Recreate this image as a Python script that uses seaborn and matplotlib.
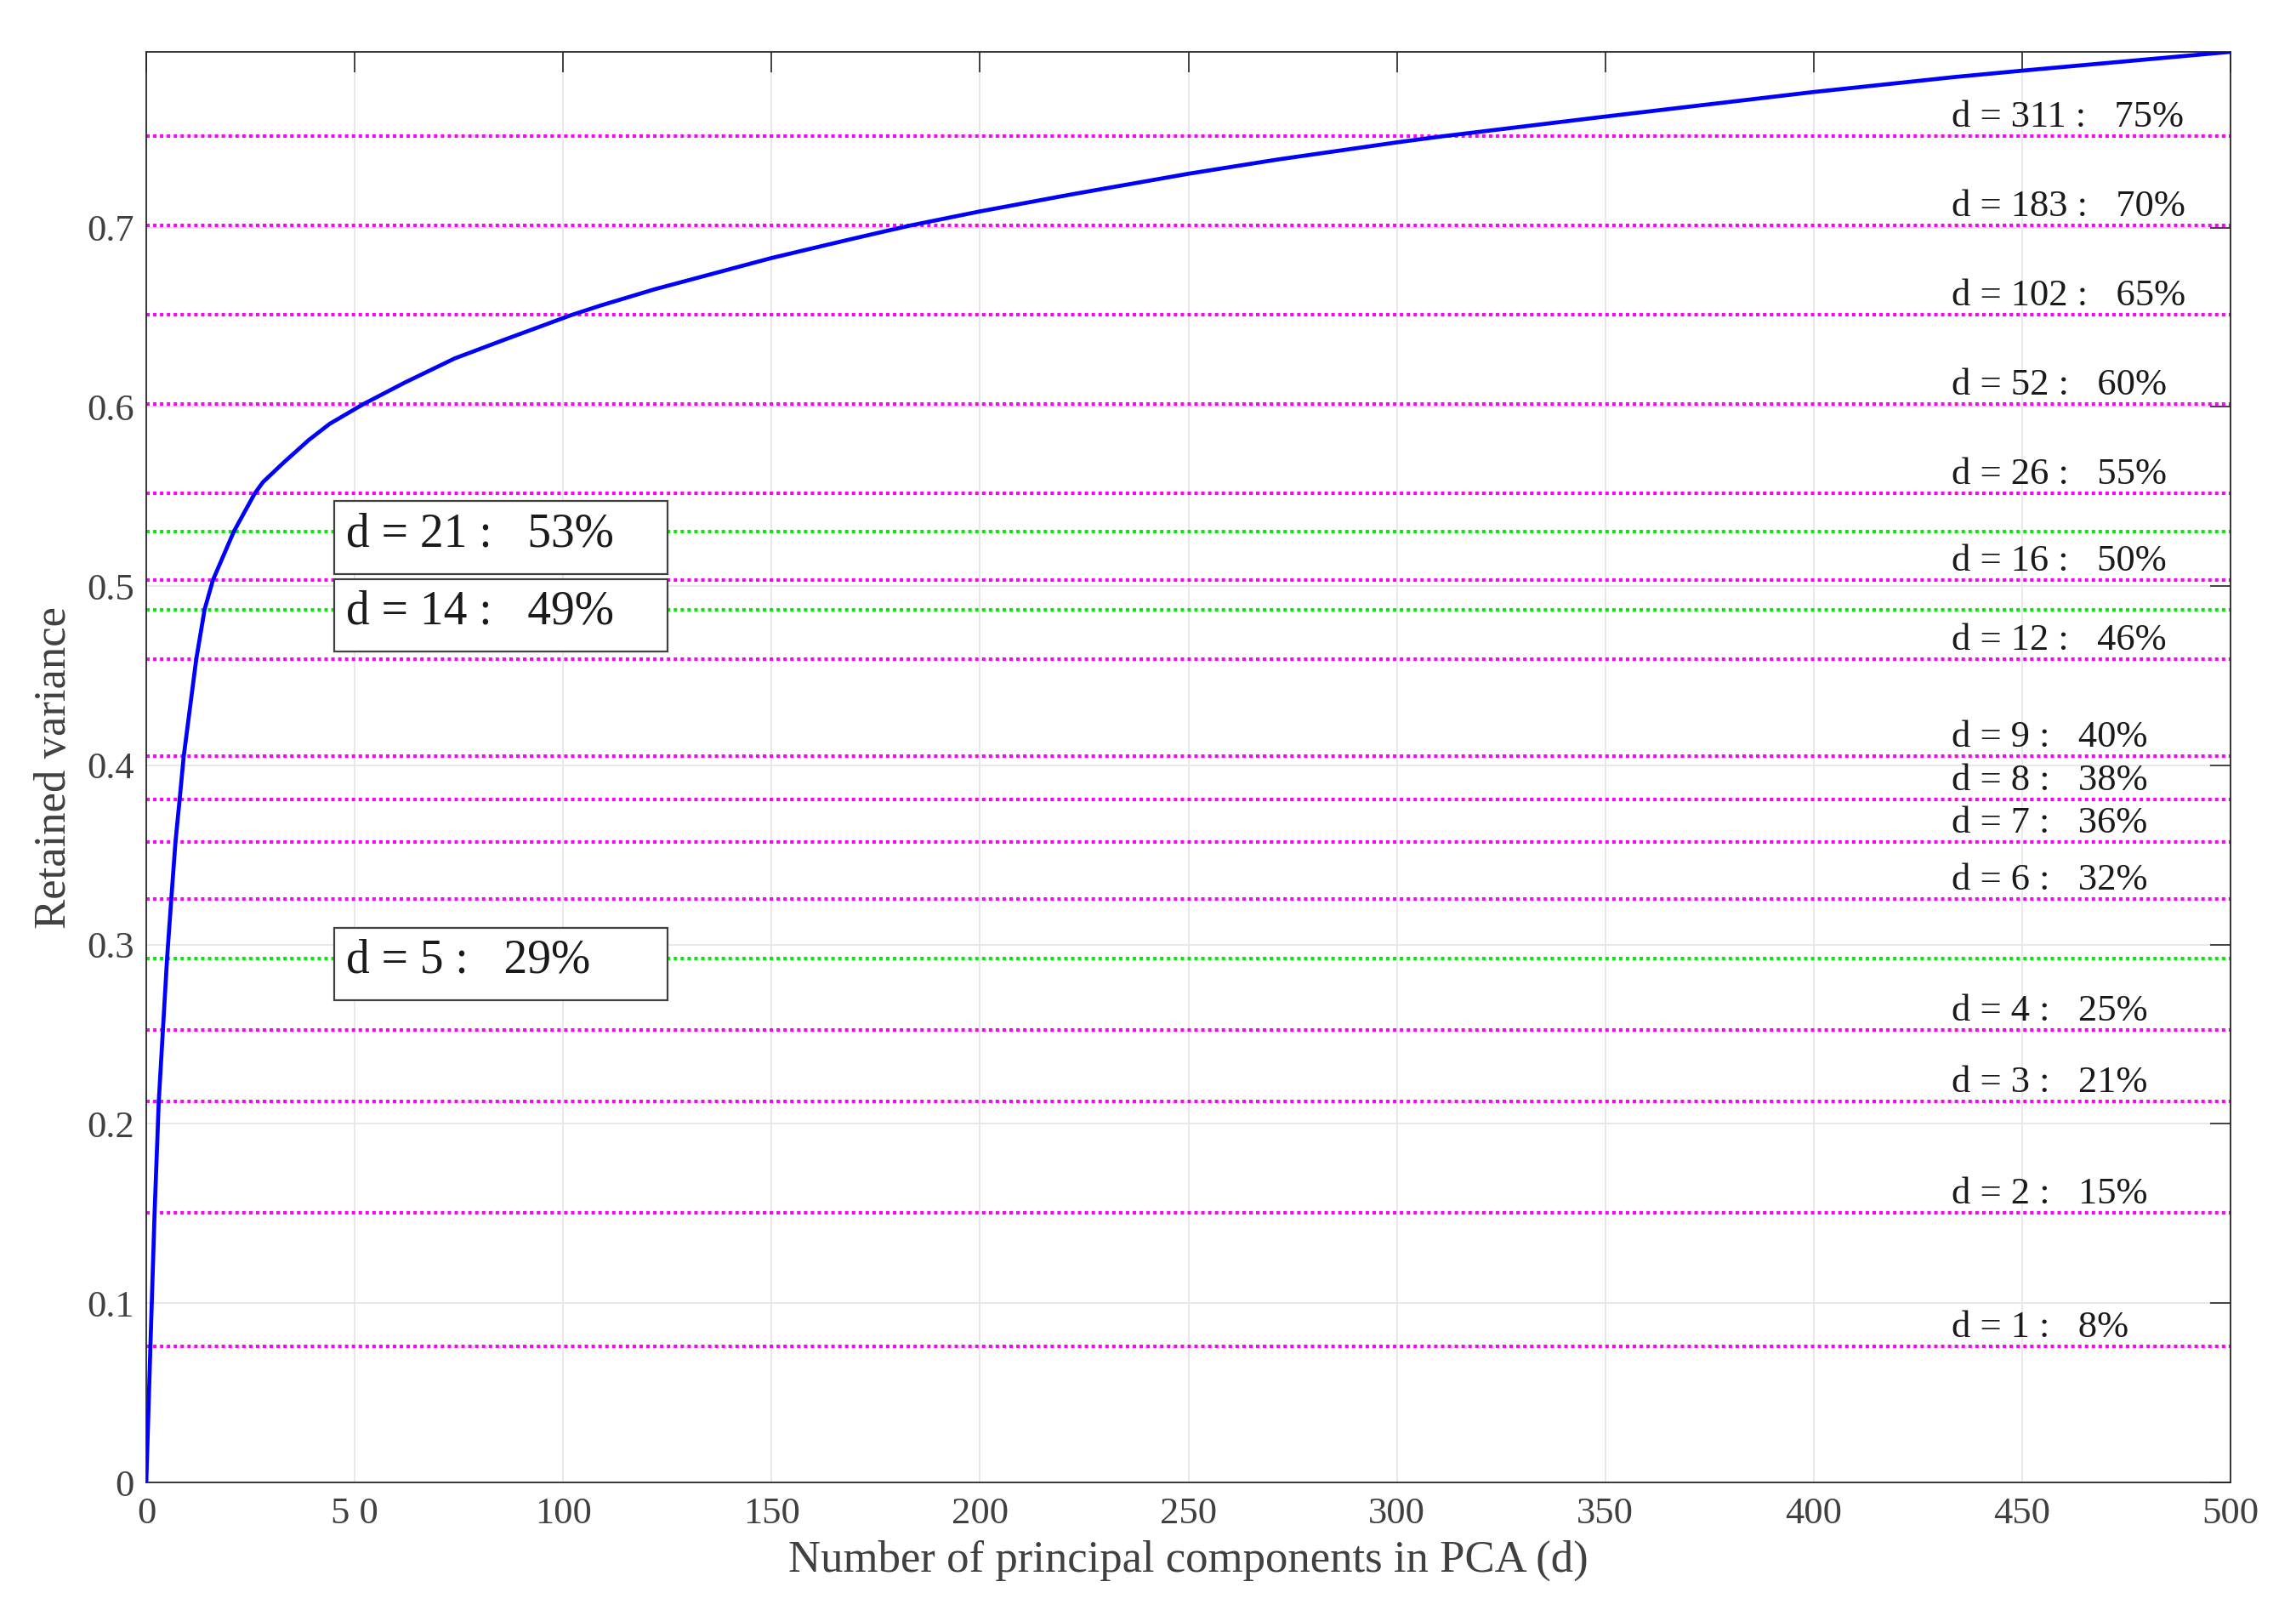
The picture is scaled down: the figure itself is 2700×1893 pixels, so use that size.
import numpy as np
import pandas as pd
import matplotlib
matplotlib.use("Agg")
import matplotlib.pyplot as plt
import seaborn as sns
from matplotlib.patches import Rectangle

# cumulative retained variance
curve_d = [0, 1, 2, 3, 4, 5, 6, 7, 8, 9, 12, 14, 16, 21, 26, 28, 33, 39, 44, 52,
           62, 74, 86, 102, 109, 122, 150, 169, 183, 200, 222, 250, 271, 300, 311,
           350, 400, 434, 450, 500]
curve_var = [0.0, 0.0761, 0.1505, 0.2125, 0.2526, 0.2925, 0.3253, 0.3571, 0.3808, 0.4053,
             0.4593, 0.487, 0.5034, 0.5304, 0.5516, 0.558, 0.569, 0.5815, 0.5905, 0.6014,
             0.6135, 0.627, 0.6375, 0.6512, 0.6565, 0.6656, 0.683, 0.6935, 0.701, 0.709,
             0.7185, 0.730, 0.7378, 0.7475, 0.7509, 0.7619, 0.7756, 0.784, 0.7875, 0.798]

# magenta reference levels with their labels
mag_levels = [0.0761, 0.1505, 0.2125, 0.2526, 0.3253, 0.3571, 0.3808, 0.4053,
              0.4593, 0.5034, 0.5516, 0.6014, 0.6512, 0.7010, 0.7509]
mag_d = [1, 2, 3, 4, 6, 7, 8, 9, 12, 16, 26, 52, 102, 183, 311]
mag_pct = [8, 15, 21, 25, 32, 36, 38, 40, 46, 50, 55, 60, 65, 70, 75]

# green highlighted levels (boxed labels)
green_levels = [0.5304, 0.487, 0.2925]
green_d = [21, 14, 5]
green_pct = [53, 49, 29]

xticks = [0, 50, 100, 150, 200, 250, 300, 350, 400, 450, 500]
xtick_labels = ["0", "5 0", "100", "150", "200", "250", "300", "350", "400", "450", "500"]
yticks = [0, 0.1, 0.2, 0.3, 0.4, 0.5, 0.6, 0.7]
ytick_labels = ["0", "0.1", "0.2", "0.3", "0.4", "0.5", "0.6", "0.7"]

sns.set_style("white")
plt.rcParams['font.family'] = ['Liberation Serif', 'DejaVu Serif']

axis_col = "#262626"
fig = plt.figure(figsize=(27, 18.93), dpi=100)
ax = fig.add_axes([0.0637, 0.0792, 0.9078, 0.8886])

# grid
for xv in xticks[1:-1]:
    ax.axvline(xv, color="#e6e6e6", lw=1.3, zorder=0)
for yv in yticks[1:]:
    ax.axhline(yv, color="#e6e6e6", lw=1.3, zorder=0)

for lv in mag_levels:
    ax.axhline(lv, color="#ff00ff", lw=2.9, ls=(0, (1.0, 1.0)), zorder=2)
for lv in green_levels:
    ax.axhline(lv, color="#00ee00", lw=2.9, ls=(0, (1.0, 1.0)), zorder=2)

df = pd.DataFrame({"d": curve_d, "var": curve_var})
sns.lineplot(data=df, x="d", y="var", color="#0000ff", lw=3.4, ax=ax, zorder=4)

# right-side labels
for lv, d, p in zip(mag_levels, mag_d, mag_pct):
    ax.text(433, lv + 0.0052, f"d = {d} :   {p}%", fontsize=32, color="#1a1a1a",
            ha="left", va="baseline", zorder=5)

# boxed labels
for lv, d, p in zip(green_levels, green_d, green_pct):
    ax.add_patch(Rectangle((45.1, lv - 0.0235), 80, 0.0405, facecolor="white",
                           edgecolor="#404040", lw=1.6, zorder=3))
    ax.text(48, lv - 0.0015, f"d = {d} :   {p}%", fontsize=40, color="#1a1a1a",
            ha="left", va="center", zorder=5)

ax.set_xlim(0, 500)
ax.set_ylim(0, curve_var[-1])
ax.set_xticks(xticks)
ax.set_xticklabels(xtick_labels)
ax.set_yticks(yticks)
ax.set_yticklabels(ytick_labels)
ax.tick_params(axis="both", direction="in", length=17, width=1.2, colors=axis_col,
               labelsize=32, top=True, right=True, labelcolor="#404040")
ax.tick_params(axis="x", pad=12)
ax.tick_params(axis="y", pad=10)
for s in ax.spines.values():
    s.set_color(axis_col)
    s.set_linewidth(1.3)

ax.set_xlabel("Number of principal components in PCA (d)", fontsize=38, color="#404040", labelpad=8)
ax.set_ylabel("Retained variance", fontsize=38, color="#404040", labelpad=10)

fig.savefig("out.png", dpi=100)
